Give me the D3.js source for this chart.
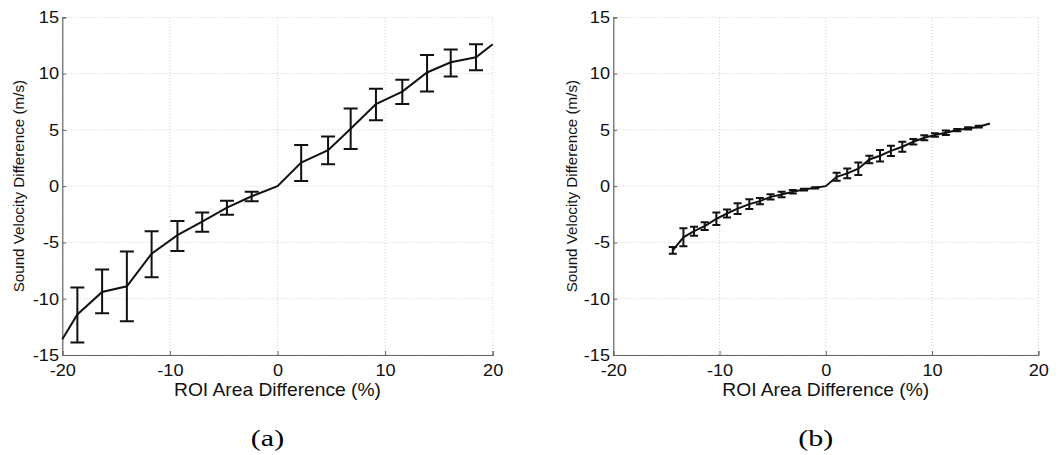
<!DOCTYPE html>
<html>
<head>
<meta charset="utf-8">
<script src="https://cdn.jsdelivr.net/npm/d3@7"></script>
<style>
body{margin:0;background:#fff}
</style>
</head>
<body>
<svg id="fig" width="1061" height="455"></svg>
<script>
var xTicks=[-20,-10,0,10,20]
var yTicks=[-15,-10,-5,0,5,10,15]

// panel (a): x, mean, upper, lower (null = no bar)
var aX    =[-20,-18.6,-16.3,-14.0,-11.7,-9.3,-7.0,-4.7,-2.4,0,2.2,4.7,6.8,9.15,11.6,13.9,16.1,18.45,20]
var aMean =[-13.6,-11.4,-9.4,-8.9,-6.0,-4.35,-3.15,-1.9,-0.9,0,2.1,3.2,5.1,7.3,8.4,10.1,11.0,11.45,12.6]
var aUp   =[null,-9.0,-7.4,-5.8,-4.0,-3.1,-2.35,-1.3,-0.5,null,3.65,4.4,6.9,8.65,9.45,11.65,12.15,12.6,null]
var aLow  =[null,-13.9,-11.3,-12.0,-8.1,-5.75,-4.05,-2.55,-1.35,null,0.45,1.95,3.3,5.85,7.3,8.4,9.75,10.3,null]

// panel (b): x, mean, half error
var bX    =[-14.4,-13.4,-12.4,-11.4,-10.3,-9.3,-8.3,-7.2,-6.2,-5.2,-4.16,-3.1,-2.05,-1.0,0,1.02,2.02,3.06,4.1,5.1,6.13,7.2,8.24,9.27,10.27,11.3,12.37,13.4,14.4,15.45]
var bMean =[-5.7,-4.55,-4.0,-3.55,-2.9,-2.43,-2.0,-1.6,-1.33,-0.95,-0.74,-0.5,-0.3,-0.15,0,0.83,1.13,1.55,2.37,2.7,3.14,3.5,3.94,4.3,4.54,4.74,4.98,5.13,5.28,5.57]
var bErr  =[0.3,0.8,0.4,0.35,0.56,0.35,0.47,0.44,0.27,0.24,0.25,0.15,0.08,0.05,0,0.35,0.43,0.55,0.33,0.52,0.46,0.44,0.25,0.22,0.15,0.2,0.1,0.1,0.08,0]

var SANS='"Liberation Sans",Arial,Helvetica,sans-serif'
var svg=d3.select('#fig')

function panel(x0,x1,yl,pts,cap){
  var x=d3.scaleLinear().domain([-20,20]).range([x0,x1])
  var y=d3.scaleLinear().domain([-15,15]).range([355,17.3])
  var g=svg.append('g')

  // dotted grid
  g.selectAll('.gx').data(xTicks).enter().append('line')
    .attr('x1',function(d){return x(d)}).attr('x2',function(d){return x(d)})
    .attr('y1',y(-15)).attr('y2',y(15))
    .attr('stroke','#cfcfcf').attr('stroke-width',1).attr('stroke-dasharray','1,2')
  g.selectAll('.gy').data(yTicks).enter().append('line')
    .attr('y1',function(d){return y(d)}).attr('y2',function(d){return y(d)})
    .attr('x1',x(-20)).attr('x2',x(20))
    .attr('stroke','#cfcfcf').attr('stroke-width',1).attr('stroke-dasharray','1,2')

  var ax=g.append('g').attr('transform','translate(0,'+y(-15)+')')
    .call(d3.axisBottom(x).tickValues(xTicks).tickSize(-4).tickPadding(9).tickFormat(String))
  var ay=g.append('g').attr('transform','translate('+x(-20)+',0)')
    .call(d3.axisLeft(y).tickValues(yTicks).tickSize(-4).tickPadding(3).tickFormat(String))
  ;[ax,ay].forEach(function(a){
    a.attr('font-family',SANS).attr('font-size',16.5)
    a.select('.domain').attr('stroke','#666').attr('stroke-width',1.2)
    a.selectAll('.tick line').attr('stroke','#666')
    a.selectAll('text').attr('fill','#111').attr('transform','scale(1.1,1)')
  })

  // line
  var line=d3.line().x(function(d){return x(d.x)}).y(function(d){return y(d.m)})
  g.append('path').datum(pts).attr('d',line)
    .attr('fill','none').attr('stroke','#111').attr('stroke-width',2)

  // error bars
  var eb=pts.filter(function(d){return d.u!=null})
  var cw=pts.length>20?4:7
  g.selectAll('.eb').data(eb).enter().append('path')
    .attr('d',function(d){
      var cx=x(d.x),yu=y(d.u),yb=y(d.l)
      return 'M'+(cx-cw)+','+yu+'H'+(cx+cw)+'M'+cx+','+yu+'V'+yb+'M'+(cx-cw)+','+yb+'H'+(cx+cw)
    })
    .attr('fill','none').attr('stroke','#111').attr('stroke-width',2)

  var mid=(x0+x1)/2
  g.append('text').attr('transform','translate('+mid+',396) scale(1.1,1)').attr('text-anchor','middle')
    .attr('font-family',SANS).attr('font-size',17.5).attr('fill','#111').text('ROI Area Difference (%)')
  g.append('text').attr('transform','translate('+yl+','+y(0)+') rotate(-90)')
    .attr('text-anchor','middle').attr('font-family',SANS).attr('font-size',15.2).attr('fill','#111')
    .text('Sound Velocity Difference (m/s)')
  g.append('text').attr('transform','translate('+(mid-10)+',446) scale(1.25,1)').attr('text-anchor','middle')
    .attr('font-size',24).attr('font-family','"Liberation Serif","Times New Roman",serif')
    .attr('fill','#000').text(cap)
}

var aPts=aX.map(function(v,i){return {x:v,m:aMean[i],u:aUp[i],l:aLow[i]}})
var bPts=bX.map(function(v,i){
  return {x:v,m:bMean[i],u:bErr[i]>0?bMean[i]+bErr[i]:null,l:bMean[i]-bErr[i]}
})

panel(62.3,492.7,24,aPts,'(a)')
panel(613.3,1038.3,577,bPts,'(b)')
</script>
</body>
</html>
